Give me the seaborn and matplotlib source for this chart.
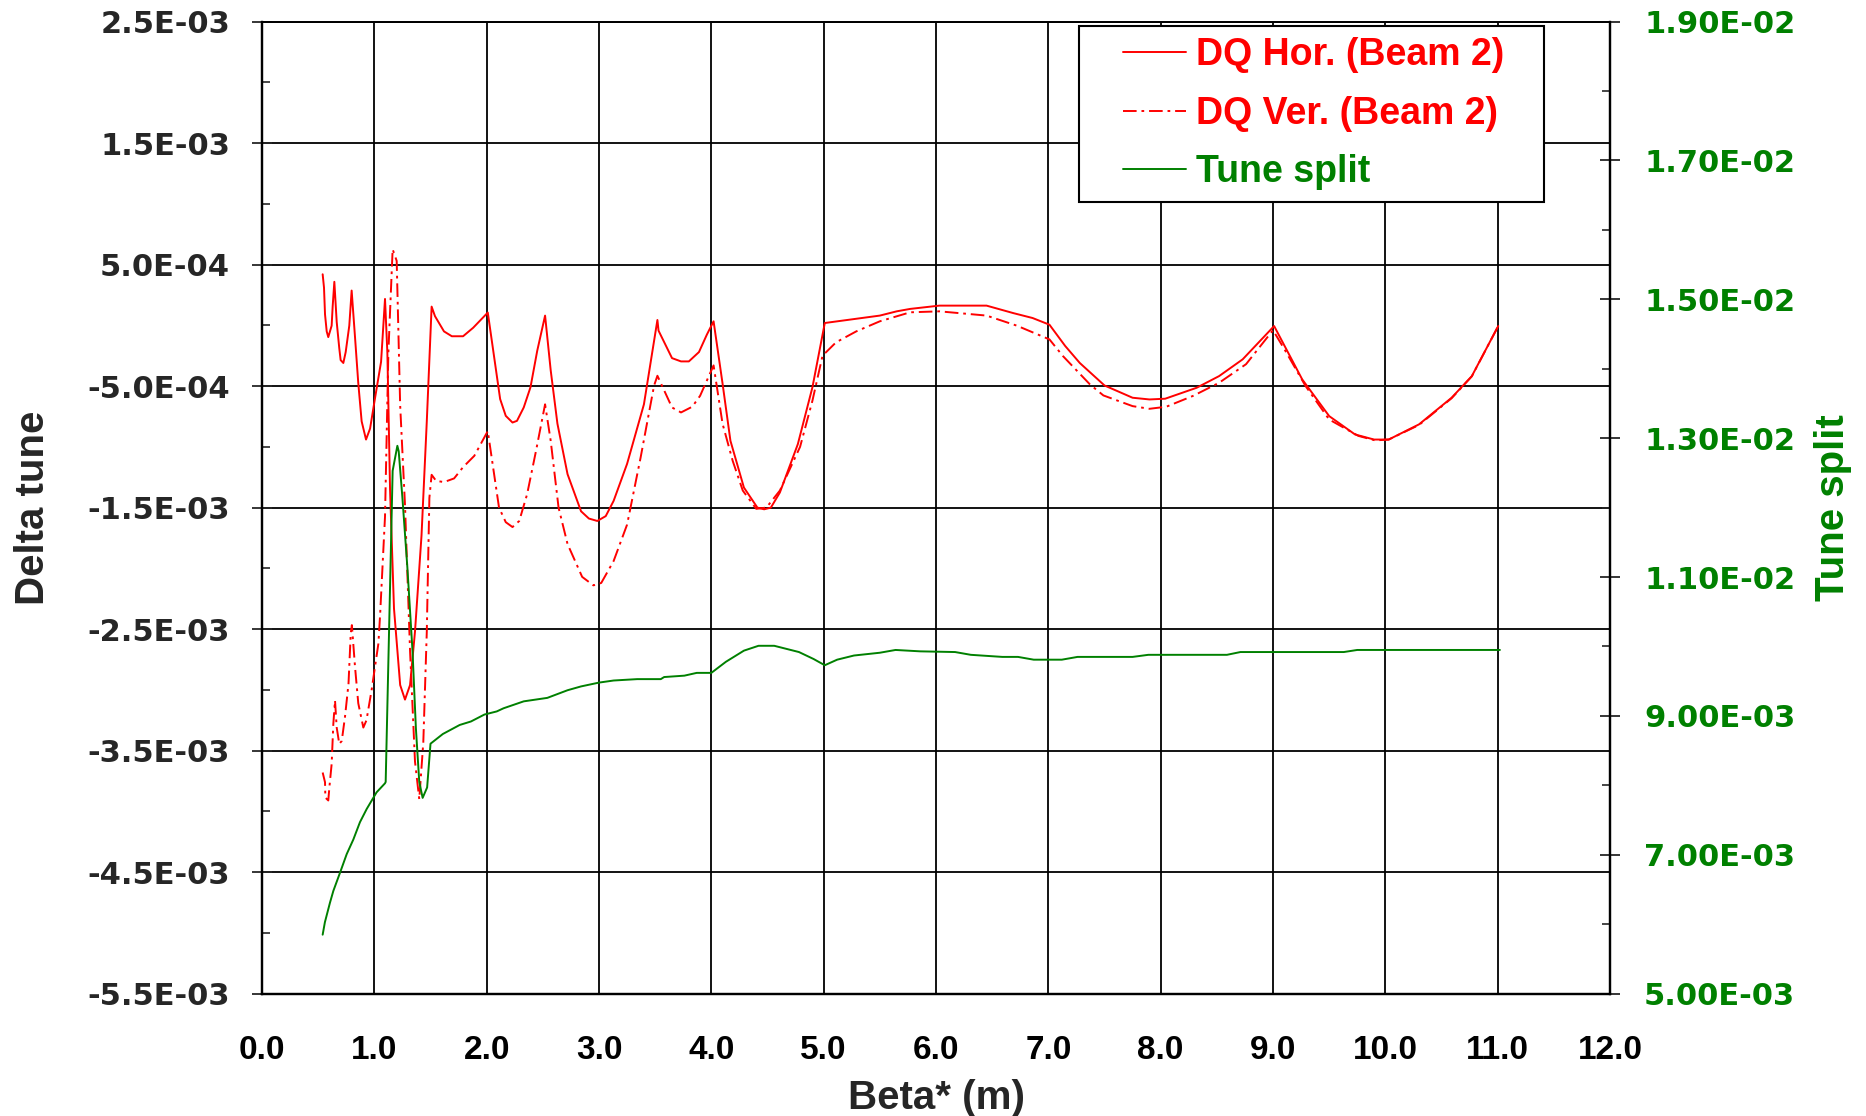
import numpy as np
import pandas as pd
import matplotlib
matplotlib.use("Agg")
import matplotlib.pyplot as plt
import seaborn as sns
from matplotlib.ticker import FuncFormatter
from matplotlib.lines import Line2D
from matplotlib.legend_handler import HandlerLine2D

# ---------------- data (delta tune in units of 1e-3) ----------------
beta_hor = [0.54, 0.552, 0.561, 0.576, 0.59, 0.62, 0.629, 0.644, 0.665, 0.688,
            0.70, 0.724, 0.745, 0.777, 0.798, 0.828, 0.857, 0.887, 0.926, 0.962,
            1.006, 1.06, 1.095, 1.116, 1.14, 1.175, 1.23, 1.273, 1.318, 1.362,
            1.42, 1.467, 1.51, 1.54, 1.62, 1.69, 1.79, 1.88, 2.01, 2.05,
            2.12, 2.17, 2.23, 2.27, 2.33, 2.39, 2.45, 2.52, 2.57, 2.63,
            2.72, 2.84, 2.91, 2.985, 3.06, 3.13, 3.25, 3.40, 3.52, 3.53,
            3.65, 3.73, 3.80, 3.89, 3.96, 4.02, 4.10, 4.17, 4.29, 4.41,
            4.47, 4.53, 4.61, 4.77, 4.90, 5.01, 5.50, 5.65, 5.77, 6.03,
            6.45, 6.69, 6.86, 7.01, 7.15, 7.28, 7.50, 7.75, 7.90, 8.04,
            8.32, 8.52, 8.73, 9.01, 9.26, 9.50, 9.73, 9.90, 10.03, 10.30,
            10.59, 10.77, 11.005]
dq_hor = [0.42, 0.31, 0.09, -0.05, -0.097, -0.003, 0.154, 0.358, 0.028, -0.19,
          -0.286, -0.31, -0.22, -0.003, 0.286, -0.097, -0.475, -0.79, -0.94, -0.85,
          -0.6, -0.30, 0.217, -0.223, -1.355, -2.33, -2.96, -3.08, -2.96, -2.52,
          -1.73, -0.79, 0.154, 0.075, -0.05, -0.09, -0.09, -0.02, 0.105, -0.154,
          -0.607, -0.745, -0.80, -0.786, -0.676, -0.51, -0.21, 0.08, -0.37, -0.81,
          -1.225, -1.53, -1.59, -1.61, -1.57, -1.445, -1.14, -0.65, 0.044, -0.044,
          -0.27, -0.297, -0.297, -0.22, -0.077, 0.033, -0.48, -0.95, -1.335, -1.50,
          -1.514, -1.50, -1.376, -0.978, -0.51, 0.019, 0.08, 0.115, 0.135, 0.162,
          0.162, 0.10, 0.06, 0.005, -0.17, -0.31, -0.495, -0.596, -0.61, -0.604,
          -0.514, -0.418, -0.28, -0.006, -0.445, -0.747, -0.898, -0.94, -0.94, -0.815,
          -0.596, -0.418, -0.006]

beta_ver = [0.54, 0.561, 0.564, 0.59, 0.60, 0.62, 0.635, 0.65, 0.665, 0.688,
            0.71, 0.739, 0.77, 0.79, 0.80, 0.828, 0.857, 0.902, 0.93, 0.976,
            1.036, 1.051, 1.095, 1.125, 1.163, 1.199, 1.23, 1.273, 1.318, 1.362,
            1.40, 1.436, 1.467, 1.49, 1.51, 1.55, 1.62, 1.71, 1.79, 1.89,
            2.01, 2.04, 2.11, 2.17, 2.23, 2.29, 2.36, 2.44, 2.52, 2.57,
            2.64, 2.72, 2.85, 2.95, 3.02, 3.13, 3.25, 3.37, 3.49, 3.52,
            3.65, 3.73, 3.83, 3.90, 4.02, 4.10, 4.19, 4.28, 4.40, 4.49,
            4.61, 4.79, 4.90, 4.99, 5.11, 5.29, 5.50, 5.77, 6.03, 6.45,
            6.72, 7.01, 7.13, 7.37, 7.49, 7.75, 7.90, 8.05, 8.29, 8.52,
            8.76, 9.00, 9.11, 9.29, 9.50, 9.76, 9.91, 10.03, 10.30, 10.59,
            10.77, 11.005]
dq_ver = [-3.68, -3.76, -3.886, -3.91, -3.80, -3.61, -3.28, -3.087, -3.31, -3.445,
          -3.42, -3.22, -2.95, -2.536, -2.467, -2.81, -3.11, -3.31, -3.25, -3.0,
          -2.62, -2.39, -1.575, -0.223, 0.626, 0.53, -0.66, -1.48, -2.68, -3.59,
          -3.90, -3.43, -2.52, -1.42, -1.23, -1.28, -1.29, -1.26, -1.167, -1.074,
          -0.87, -1.06, -1.50, -1.62, -1.66, -1.61, -1.39, -1.03, -0.65, -0.95,
          -1.50, -1.80, -2.07, -2.14, -2.12, -1.94, -1.64, -1.09, -0.497, -0.415,
          -0.676, -0.717, -0.67, -0.58, -0.33, -0.81, -1.115, -1.36, -1.51, -1.50,
          -1.36, -1.0, -0.62, -0.25, -0.14, -0.05, 0.033, 0.107, 0.115, 0.08,
          -0.003, -0.116, -0.253, -0.486, -0.577, -0.665, -0.687, -0.67, -0.58, -0.473,
          -0.32, -0.04, -0.21, -0.50, -0.775, -0.91, -0.947, -0.94, -0.82, -0.60,
          -0.42, -0.006]

# tune split in units of 1e-3
beta_split = [0.54, 0.56, 0.605, 0.635, 0.694, 0.754, 0.813, 0.872, 0.932, 0.976,
              1.02, 1.095, 1.101, 1.163, 1.205, 1.217, 1.25, 1.294, 1.34, 1.37,
              1.40, 1.43, 1.47, 1.50, 1.61, 1.76, 1.86, 1.98, 2.09, 2.15,
              2.33, 2.54, 2.72, 2.84, 3.0, 3.13, 3.34, 3.55, 3.58, 3.76,
              3.87, 4.0, 4.13, 4.29, 4.42, 4.56, 4.78, 4.91, 5.01, 5.12,
              5.27, 5.50, 5.64, 5.86, 6.17, 6.31, 6.59, 6.73, 6.87, 7.12,
              7.26, 7.75, 7.89, 8.59, 8.71, 9.63, 9.75, 11.02]
tune_split = [5.85, 6.03, 6.31, 6.48, 6.74, 7.01, 7.22, 7.47, 7.66, 7.78,
              7.90, 8.03, 8.05, 12.53, 12.89, 12.81, 12.14, 11.14, 9.93, 8.82,
              8.05, 7.82, 7.97, 8.60, 8.74, 8.87, 8.92, 9.02, 9.065, 9.11,
              9.21, 9.26, 9.37, 9.425, 9.48, 9.51, 9.53, 9.53, 9.56, 9.58,
              9.62, 9.62, 9.78, 9.94, 10.01, 10.01, 9.92, 9.82, 9.73, 9.81,
              9.87, 9.91, 9.95, 9.93, 9.92, 9.88, 9.85, 9.85, 9.81, 9.81,
              9.85, 9.85, 9.88, 9.88, 9.92, 9.92, 9.95, 9.95]

labels = ["DQ Hor. (Beam 2)", "DQ Ver. (Beam 2)", "Tune split"]
x_ticks = list(range(0, 13))
left_ticks = [-5.5, -4.5, -3.5, -2.5, -1.5, -0.5, 0.5, 1.5, 2.5]
right_ticks = [5, 7, 9, 11, 13, 15, 17, 19]

UNIT = 1e-3
RED = "#ff0000"
GREEN = "#008000"

df_h = pd.DataFrame({"beta": beta_hor, "dq": np.array(dq_hor) * UNIT})
df_v = pd.DataFrame({"beta": beta_ver, "dq": np.array(dq_ver) * UNIT})
df_s = pd.DataFrame({"beta": beta_split, "ts": np.array(tune_split) * UNIT})

# ---------------- figure ----------------
sns.set_style("white")
plt.rcParams['font.family'] = ['Liberation Sans', 'DejaVu Sans']
plt.rcParams['font.weight'] = 'bold'
plt.rcParams['axes.labelweight'] = 'bold'

W, H = 1866, 1116
fig = plt.figure(figsize=(W / 100, H / 100), dpi=100)
L, R, T, B = 262, 1610, 21.5, 993.7
ax = fig.add_axes([L / W, 1 - B / H, (R - L) / W, (B - T) / H])
ax2 = ax.twinx()

DASHDOT = (0, (7, 2.5, 1.4, 2.5))
sns.lineplot(data=df_h, x="beta", y="dq", ax=ax, color=RED, lw=1.4,
             sort=False, estimator=None)
sns.lineplot(data=df_v, x="beta", y="dq", ax=ax, color=RED, lw=1.4,
             sort=False, estimator=None)
ax.lines[-1].set_linestyle(DASHDOT)
sns.lineplot(data=df_s, x="beta", y="ts", ax=ax2, color=GREEN, lw=1.4,
             sort=False, estimator=None)

ax.set_xlim(0, 12)
ax.set_ylim(-5.5 * UNIT, 2.5 * UNIT)
ax2.set_ylim(5 * UNIT, 19 * UNIT)

ax.set_xticks(x_ticks)
ax.set_xticks(np.arange(0.5, 12, 1.0), minor=True)
ax.set_yticks([v * UNIT for v in left_ticks])
ax.set_yticks([(v + 0.5) * UNIT for v in left_ticks[:-1]], minor=True)
ax2.set_yticks([v * UNIT for v in right_ticks])
ax2.set_yticks([(v + 1) * UNIT for v in right_ticks[:-1]], minor=True)

ax.xaxis.set_major_formatter(FuncFormatter(lambda v, p: f"{v:.1f}"))
ax.yaxis.set_major_formatter(FuncFormatter(lambda v, p: f"{v:.1E}"))
ax2.yaxis.set_major_formatter(FuncFormatter(lambda v, p: f"{v:.2E}"))

ax.grid(True, which='major', color='black', lw=1.3)
ax.set_axisbelow(True)

ax.tick_params(axis='x', which='major', direction='inout', length=14, width=1.3,
               labelsize=24, pad=23, colors='black')
ax.tick_params(axis='x', which='minor', direction='in', length=6, width=1.2)
ax.tick_params(axis='y', which='major', direction='inout', length=14, width=1.3,
               labelsize=22, pad=16, labelfontfamily='DejaVu Sans')
ax.tick_params(axis='y', which='minor', direction='in', length=5.5, width=1.2)
ax2.tick_params(axis='y', which='major', direction='inout', length=15, width=1.3,
                labelsize=22, pad=17, labelcolor=GREEN, labelfontfamily='DejaVu Sans')
ax2.tick_params(axis='y', which='minor', direction='in', length=5.5, width=1.2)

for a in (ax, ax2):
    for s in a.spines.values():
        s.set_color('black')
        s.set_linewidth(1.6)
ax2.spines['top'].set_linewidth(1.3)
ax.spines['top'].set_linewidth(1.3)

ax.set_xlabel("Beta* (m)", fontsize=29, fontweight='bold')
ax.set_ylabel("Delta tune", fontsize=29, fontweight='bold')
ax2.set_ylabel("Tune split", fontsize=29, fontweight='bold', color=GREEN)
ax.xaxis.set_label_coords(0.5, -0.107)
ax.xaxis.label.set_va('center')
ax.yaxis.set_label_coords((33 - L) / (R - L), 0.5)
ax.yaxis.label.set_va('center')
ax2.yaxis.set_label_coords((1833 - L) / (R - L), 0.5)
ax2.yaxis.label.set_va('center')

handles = [Line2D([], [], color=RED, lw=1.4),
           Line2D([], [], color=RED, lw=1.4, linestyle=DASHDOT),
           Line2D([], [], color=GREEN, lw=1.4)]
XPAD = 0.85
hmap = {h: HandlerLine2D(xpad=XPAD) for h in handles}
leg_x0 = (1079.4 - L) / (R - L)
leg_w = (1543.5 - 1079.4) / (R - L)
leg_top = 1 - (26.2 - T) / (B - T)
leg = ax2.legend(handles, labels, loc='upper left',
                 bbox_to_anchor=(leg_x0, leg_top - 0.2, leg_w, 0.2), mode='expand',
                 handler_map=hmap,
                 prop={'family': 'Liberation Sans', 'weight': 'bold', 'size': 27},
                 frameon=True, fancybox=False, edgecolor='black', framealpha=1,
                 borderpad=0.3, handlelength=1.7 + XPAD, handletextpad=0.25,
                 labelspacing=0.6, borderaxespad=0)
leg.get_frame().set_linewidth(1.5)
for txt, c in zip(leg.get_texts(), [RED, RED, GREEN]):
    txt.set_color(c)

fig.savefig("out.png", dpi=100, facecolor='white')
